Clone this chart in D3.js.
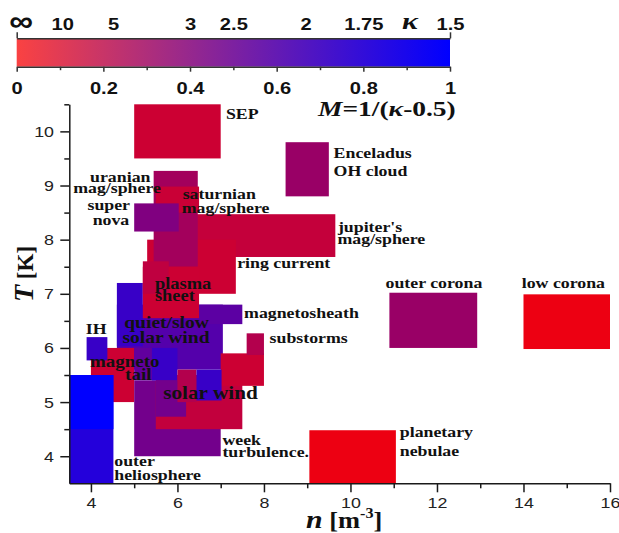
<!DOCTYPE html>
<html>
<head>
<meta charset="utf-8">
<script src="https://cdn.jsdelivr.net/npm/d3@7"></script>
<style>
  body { margin: 0; background: #fff; }
  svg { display: block; }
  .lbl { font-family: "Liberation Serif", "Times New Roman", serif; font-weight: bold; fill: #111; }
  .ax text { font-family: "Liberation Sans", Arial, sans-serif; font-size: 15.5px; fill: #222; }
  .cb text { font-family: "Liberation Sans", Arial, sans-serif; font-size: 16.5px; font-weight: bold; fill: #111; }
</style>
</head>
<body>
<svg id="chart" width="619" height="533"></svg>
<script>
// boxes in draw order: density range (n), temperature range (T), M = 1/(kappa-0.5)
const boxN0 = [5.5, 5.3, 5.45, 5.5, 5.0, 4.6, 4.6, 5.2, 5.2, 6.5, 4.0, 3.9, 5.0, 5.5, 5.5, 5.0, 5.41, 7.0, 6.0, 6.44, 7.6, 3.5, 3.5, 9.05, 10.9, 14.0, 5.0, 8.5];
const boxN1 = [9.65, 7.35, 6.47, 6.5, 6.03, 7.05, 5.2, 6.5, 5.8, 7.5, 5.0, 4.38, 7.0, 7.5, 6.2, 5.5, 6.0, 8.0, 6.44, 7.02, 8.0, 4.52, 4.52, 11.05, 12.93, 16.0, 7.0, 9.5];
const boxT0 = [7.68, 7.0, 7.5, 8.5, 8.15, 5.6, 6.03, 6.55, 7.0, 6.44, 5.0, 5.77, 4.0, 4.5, 4.73, 5.4, 5.4, 5.3, 5.0, 5.03, 5.87, 3.5, 4.5, 3.5, 6.0, 5.98, 9.5, 8.8];
const boxT1 = [8.47, 8.0, 9.27, 8.98, 8.67, 6.8, 7.2, 7.5, 7.6, 6.8, 6.0, 6.2, 5.4, 5.5, 5.4, 6.0, 6.0, 5.9, 5.6, 5.6, 6.27, 5.5, 5.5, 4.48, 7.02, 6.99, 10.5, 9.8];
const boxM  = [0.23, 0.2, 0.36, 0.21, 0.5, 0.67, 0.78, 0.2, 0.25, 0.64, 0.2, 0.78, 0.55, 0.24, 0.55, 0.62, 0.78, 0.2, 0.3, 0.78, 0.3, 0.86, 1.0, 0.07, 0.4, 0.07, 0.2, 0.4];

// annotation lines and their anchor (left end of baseline) in data units
const labelText = ["SEP", "Enceladus", "OH cloud", "uranian", "mag/sphere", "saturnian", "mag/sphere",
  "super", "nova", "jupiter's", "mag/sphere", "ring current", "plasma", "sheet", "magnetosheath",
  "substorms", "IH", "quiet/slow", "solar wind", "magneto", "tail", "solar wind", "week", "turbulence.",
  "outer", "heliosphere", "planetary", "nebulae", "outer corona", "low corona"];
const labelN = [7.12, 9.61, 9.61, 3.98, 3.59, 6.12, 6.10, 3.92, 4.04, 9.71, 9.70, 7.38, 5.48, 5.48, 7.54,
  8.13, 3.88, 4.77, 4.73, 3.98, 4.79, 5.67, 7.04, 7.04, 4.54, 4.54, 11.14, 11.14, 10.81, 13.96];
const labelT = [10.22, 9.51, 9.17, 9.07, 8.87, 8.76, 8.50, 8.55, 8.27, 8.15, 7.92, 7.47, 7.09, 6.86, 6.56,
  6.09, 6.25, 6.37, 6.10, 5.64, 5.41, 5.06, 4.21, 3.99, 3.82, 3.57, 4.35, 4.00, 7.10, 7.10];

const xMajor = [4, 6, 8, 10, 12, 14, 16];
const xMinor = [5, 7, 9, 11, 13, 15];
const yMajor = [4, 5, 6, 7, 8, 9, 10];
const yMinor = [4.5, 5.5, 6.5, 7.5, 8.5, 9.5, 10.5];

const mMajor = [0, 0.2, 0.4, 0.6, 0.8, 1];
const mMinor = [0.1, 0.3, 0.5, 0.7, 0.9];
const kappaLabels = ["\u221E", "10", "5", "3", "2.5", "2", "1.75", "1.5"];
const kappaValues = [Infinity, 10, 5, 3, 2.5, 2, 1.75, 1.5];

const svg = d3.select("#chart");

const x = d3.scaleLinear().domain([3.5, 16]).range([69.3, 610]);
const y = d3.scaleLinear().domain([3.5, 10.5]).range([483.3, 104.3]);
const boxColor = d3.interpolateRgb("rgb(255,0,0)", "rgb(0,0,255)");

// boxes
svg.append("g")
  .selectAll("rect")
  .data(d3.range(boxN0.length))
  .join("rect")
  .attr("x", i => x(boxN0[i]))
  .attr("width", i => x(boxN1[i]) - x(boxN0[i]))
  .attr("y", i => y(boxT1[i]))
  .attr("height", i => y(boxT0[i]) - y(boxT1[i]))
  .attr("fill", i => boxColor(boxM[i]));

// axes
function styleAxis(g) {
  g.attr("class", "ax").attr("color", "#1a1a1a");
  g.selectAll("path, line").attr("stroke-width", 1.5);
}

svg.append("g")
  .attr("transform", `translate(0,${y(3.5)})`)
  .call(d3.axisBottom(x).tickValues(xMajor).tickSize(9).tickSizeOuter(0).tickPadding(5)
    .tickFormat(d3.format("d")))
  .call(styleAxis)
  .call(g => g.selectAll("text").attr("transform", "scale(1.15,1)"));

svg.append("g")
  .attr("transform", `translate(0,${y(3.5)})`)
  .call(d3.axisBottom(x).tickValues(xMinor).tickSize(5).tickFormat(""))
  .call(styleAxis)
  .call(g => g.select(".domain").remove());

svg.append("g")
  .attr("transform", `translate(${x(3.5)},0)`)
  .call(d3.axisLeft(y).tickValues(yMajor).tickSize(9).tickSizeOuter(0).tickPadding(4.3)
    .tickFormat(d3.format("d")))
  .call(styleAxis)
  .call(g => g.selectAll("text").attr("transform", "scale(1.15,1)"));

svg.append("g")
  .attr("transform", `translate(${x(3.5)},0)`)
  .call(d3.axisLeft(y).tickValues(yMinor).tickSize(5).tickFormat(""))
  .call(styleAxis)
  .call(g => g.select(".domain").remove());

// labels
function addLabel(text, px, py, size, sx) {
  return svg.append("text")
    .attr("class", "lbl")
    .attr("transform", `translate(${px},${py}) scale(${sx},1)`)
    .style("font-size", size + "px")
    .text(text);
}

const labelSize = i => {
  if (i === 21) return 18.5;
  if (i === 17 || i === 18) return 17;
  if (i === 19 || i === 20) return 16.5;
  if (i === 12 || i === 13) return 16;
  return 15.5;
};

labelText.forEach((t, i) => addLabel(t, x(labelN[i]), y(labelT[i]), labelSize(i), 1.15));

// axis titles
const yTitle = svg.append("text")
  .attr("class", "lbl")
  .attr("transform", "translate(33,274) rotate(-90)")
  .attr("text-anchor", "middle");
yTitle.append("tspan").style("font-style", "italic").style("font-size", "28px").text("T");
yTitle.append("tspan").style("font-size", "23px").text(" [K]");

const xTitle = svg.append("text")
  .attr("class", "lbl")
  .attr("transform", "translate(306,528) scale(1.15,1)");
xTitle.append("tspan").style("font-style", "italic").style("font-size", "26px").text("n");
xTitle.append("tspan").style("font-size", "23px").text(" [m");
xTitle.append("tspan").style("font-size", "14px").attr("dy", -10).text("-3");
xTitle.append("tspan").style("font-size", "23px").attr("dy", 10).text("]");

// colour bar
const m = d3.scaleLinear().domain([0, 1]).range([16.7, 450]);
const barTop = 38.3, barBottom = 66.7;

const grad = svg.append("defs").append("linearGradient")
  .attr("id", "cbar").attr("x1", "0%").attr("x2", "100%").attr("y1", "0%").attr("y2", "0%");
grad.append("stop").attr("offset", "0%").attr("stop-color", "rgb(250,66,66)");
grad.append("stop").attr("offset", "100%").attr("stop-color", "rgb(0,0,255)");

svg.append("rect")
  .attr("x", m(0)).attr("y", barTop)
  .attr("width", m(1) - m(0)).attr("height", barBottom - barTop)
  .attr("fill", "url(#cbar)");

function styleCb(g) {
  g.attr("class", "cb").attr("color", "#333");
  g.selectAll("path, line").attr("stroke-width", 1.5);
}

svg.append("g")
  .attr("transform", `translate(0,${barBottom})`)
  .call(d3.axisBottom(m).tickValues(mMajor).tickSize(5).tickSizeOuter(0).tickPadding(10.5).tickFormat(d3.format("~g")))
  .call(styleCb)
  .call(g => g.selectAll("text").attr("transform", "scale(1.22,1)"));

svg.append("g")
  .attr("transform", `translate(0,${barBottom})`)
  .call(d3.axisBottom(m).tickValues(mMinor).tickSize(3.5).tickFormat(""))
  .call(styleCb)
  .call(g => g.select(".domain").remove());

const kappaM = kappaValues.map(k => (k === Infinity ? 0 : 1 / (k - 0.5)));

svg.append("g")
  .attr("transform", `translate(0,${barTop})`)
  .call(d3.axisTop(m).tickValues(kappaM).tickSize(0).tickSizeOuter(0).tickPadding(8)
    .tickFormat((d, i) => kappaLabels[i]))
  .call(styleCb)
  .call(g => g.selectAll("text").attr("transform", "scale(1.22,1)"))
  .call(g => g.selectAll("text").filter((d, i) => i === 0)
    .style("font-size", "29px").attr("transform", "translate(4,1) scale(1.15,1)"));

svg.append("g")
  .attr("transform", `translate(0,${barTop})`)
  .call(d3.axisTop(m).tickValues([0, 1]).tickSize(6).tickFormat(""))
  .call(styleCb)
  .call(g => g.select(".domain").remove());

// kappa symbol and M formula
svg.append("text")
  .attr("class", "lbl")
  .attr("transform", "translate(402,28.5) scale(1.3,1)")
  .style("font-style", "italic")
  .style("font-size", "23px")
  .text("\u03BA");

const formula = svg.append("text")
  .attr("class", "lbl")
  .attr("transform", "translate(318,115.5) scale(1.34,1)")
  .style("font-size", "20.5px");
formula.append("tspan").style("font-style", "italic").text("M");
formula.append("tspan").text("=1/(");
formula.append("tspan").style("font-style", "italic").text("\u03BA");
formula.append("tspan").text("-0.5)");
</script>
</body>
</html>
